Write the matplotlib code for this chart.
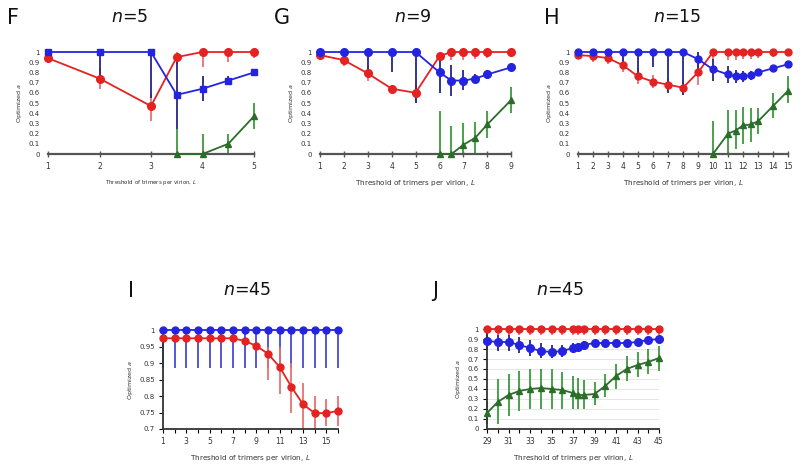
import matplotlib
matplotlib.use("Agg")
import matplotlib.pyplot as plt
from matplotlib.ticker import FuncFormatter
import numpy as np

# ---------------- data ----------------
# Panel F (n=5)
F_x = [1, 2, 3, 3.5, 4, 4.5, 5]
F_red = [0.94, 0.74, 0.47, 0.95, 1.0, 1.0, 1.0]
F_red_lo = [0.94, 0.64, 0.32, 0.88, 0.85, 0.90, 0.94]
F_red_hi = [0.94, 0.84, 0.60, 1.0, 1.0, 1.0, 1.0]
F_blue = [1.0, 1.0, 1.0, 0.58, 0.64, 0.72, 0.80]
F_blue_lo = [1.0, 0.75, 0.55, 0.25, 0.52, 0.68, 0.77]
F_blue_hi = [1.0, 1.0, 1.0, 0.95, 0.76, 0.76, 0.83]
F_gx = [3.5, 4, 4.5, 5]
F_green = [0.0, 0.0, 0.10, 0.37]
F_green_lo = [0.0, 0.0, 0.0, 0.25]
F_green_hi = [0.25, 0.20, 0.20, 0.50]

# Panel G (n=9)
G_x = [1, 2, 3, 4, 5, 6, 6.5, 7, 7.5, 8, 9]
G_red = [0.97, 0.92, 0.79, 0.64, 0.60, 0.96, 1, 1, 1, 1, 1]
G_red_lo = [0.97, 0.86, 0.72, 0.62, 0.50, 0.90, 0.92, 0.92, 0.93, 0.94, 0.95]
G_red_hi = [0.97, 0.97, 0.86, 0.66, 0.68, 1, 1, 1, 1, 1, 1]
G_blue = [1, 1, 1, 1, 1, 0.80, 0.72, 0.72, 0.74, 0.78, 0.85]
G_blue_lo = [1, 0.90, 0.80, 0.80, 0.50, 0.60, 0.57, 0.63, 0.70, 0.74, 0.82]
G_blue_hi = [1, 1, 1, 1, 1, 0.95, 0.87, 0.82, 0.78, 0.82, 0.88]
G_gx = [6, 6.5, 7, 7.5, 8, 9]
G_green = [0.0, 0.0, 0.09, 0.16, 0.29, 0.53]
G_green_lo = [0.0, 0.0, 0.0, 0.01, 0.16, 0.40]
G_green_hi = [0.42, 0.27, 0.30, 0.31, 0.42, 0.66]

# Panel H (n=15)
H_x = [1, 2, 3, 4, 5, 6, 7, 8, 9, 10, 11, 11.5, 12, 12.5, 13, 14, 15]
H_red = [0.97, 0.96, 0.94, 0.87, 0.76, 0.71, 0.68, 0.65, 0.80, 1, 1, 1, 1, 1, 1, 1, 1]
H_red_lo = [0.97, 0.90, 0.88, 0.80, 0.69, 0.65, 0.62, 0.58, 0.68, 0.92, 0.92, 0.92, 0.93, 0.93, 0.94, 0.95, 0.96]
H_red_hi = [0.97, 1, 1, 0.94, 0.84, 0.77, 0.74, 0.72, 0.92, 1, 1, 1, 1, 1, 1, 1, 1]
H_blue = [1, 1, 1, 1, 1, 1, 1, 1, 0.93, 0.83, 0.78, 0.76, 0.76, 0.77, 0.80, 0.84, 0.88]
H_blue_lo = [1, 1, 1, 0.85, 0.78, 0.85, 0.60, 0.58, 0.80, 0.72, 0.70, 0.70, 0.71, 0.73, 0.77, 0.82, 0.86]
H_blue_hi = [1, 1, 1, 1, 1, 1, 1, 1, 1, 0.93, 0.86, 0.82, 0.81, 0.81, 0.83, 0.86, 0.90]
H_gx = [10, 11, 11.5, 12, 12.5, 13, 14, 15]
H_green = [0.0, 0.20, 0.23, 0.28, 0.29, 0.32, 0.47, 0.62]
H_green_lo = [0.0, 0.0, 0.05, 0.10, 0.12, 0.20, 0.35, 0.50]
H_green_hi = [0.32, 0.43, 0.43, 0.46, 0.45, 0.45, 0.60, 0.76]

# Panel I (n=45)
I_x = list(range(1, 17))
I_blue = [1.0] * 16
I_blue_lo = [0.885] * 16
I_blue_hi = [1.0] * 16
I_red = [0.975] * 7 + [0.967, 0.952, 0.928, 0.888, 0.828, 0.775, 0.748, 0.748, 0.755]
I_red_lo = [0.975] * 7 + [0.965, 0.945, 0.85, 0.805, 0.75, 0.70, 0.70, 0.71, 0.71]
I_red_hi = [0.975] * 7 + [0.97, 0.96, 0.95, 0.95, 0.90, 0.84, 0.80, 0.79, 0.80]

# Panel J (n=45)
J_x = [29, 30, 31, 32, 33, 34, 35, 36, 37, 37.5, 38, 39, 40, 41, 42, 43, 44, 45]
J_red = [1.0] * 18
J_red_lo = [0.94] * 18
J_red_hi = [1.0] * 18
J_blue = [0.88, 0.87, 0.87, 0.84, 0.81, 0.78, 0.77, 0.78, 0.81, 0.82, 0.84, 0.86, 0.86, 0.86, 0.86, 0.87, 0.89, 0.90]
J_blue_lo = [0.80, 0.78, 0.78, 0.76, 0.73, 0.71, 0.71, 0.72, 0.76, 0.78, 0.80, 0.83, 0.83, 0.83, 0.84, 0.85, 0.87, 0.88]
J_blue_hi = [0.95, 0.95, 0.95, 0.92, 0.89, 0.86, 0.84, 0.84, 0.86, 0.86, 0.88, 0.89, 0.89, 0.89, 0.88, 0.89, 0.91, 0.92]
J_green = [0.16, 0.27, 0.34, 0.38, 0.40, 0.41, 0.40, 0.39, 0.36, 0.34, 0.34, 0.35, 0.43, 0.53, 0.60, 0.64, 0.67, 0.71]
J_green_lo = [0.05, 0.05, 0.13, 0.18, 0.20, 0.20, 0.20, 0.20, 0.20, 0.20, 0.20, 0.24, 0.32, 0.40, 0.48, 0.52, 0.55, 0.58]
J_green_hi = [0.28, 0.50, 0.55, 0.58, 0.60, 0.60, 0.60, 0.57, 0.53, 0.51, 0.49, 0.47, 0.55, 0.65, 0.73, 0.77, 0.80, 0.83]

# ---------------- style ----------------
RED = "#e42222"
RED_ERR = "#e87070"
BLUE = "#2424e0"
BLUE_ERR = "#25258a"
GREEN = "#2a6e2a"
GREEN_ERR = "#3c9a3c"
AX_COL = "#555555"
TXT = "#333333"

fig = plt.figure(figsize=(8.0, 4.69), dpi=100)
fmt = FuncFormatter(lambda v, p: "%g" % round(v, 3))


def errs(x, y, lo, hi, ax, col):
    y = np.asarray(y); lo = np.asarray(lo); hi = np.asarray(hi)
    ax.errorbar(x, y, yerr=[y - lo, hi - y], fmt="none", ecolor=col,
                elinewidth=1.3, capsize=0, clip_on=False, zorder=2)


def series(ax, x, y, col, marker, ms):
    ax.plot(x, y, color=col, lw=1.3, marker=marker, ms=ms, mfc=col, mec=col,
            clip_on=False, zorder=4)


def style_top(ax, xmin, xmax, xticks, xlfs=5.2):
    ax.set_xlim(xmin, xmax)
    ax.set_ylim(0, 1)
    for s in ("top", "right", "left"):
        ax.spines[s].set_visible(False)
    ax.spines["bottom"].set_color(AX_COL)
    ax.spines["bottom"].set_linewidth(1.6)
    ax.set_yticks(np.arange(0, 1.01, 0.1))
    ax.yaxis.set_major_formatter(fmt)
    ax.set_xticks(xticks)
    ax.tick_params(axis="y", length=0, pad=6, labelsize=5, colors=TXT)
    ax.tick_params(axis="x", length=5, direction="inout", width=1.0, color=AX_COL,
                   labelsize=5.5, pad=3, labelcolor=TXT)
    ax.set_xlabel(r"Threshold of trimers per virion, $L$", fontsize=xlfs, labelpad=5, color=TXT)
    ax.set_ylabel(r"Optimized $a$", fontsize=4.6, labelpad=3, color=TXT)


# Panel F
axF = fig.add_axes([0.06, 0.6716, 0.2575, 0.2175])
errs(F_gx, F_green, F_green_lo, F_green_hi, axF, GREEN_ERR)
errs(F_x, F_red, F_red_lo, F_red_hi, axF, RED_ERR)
errs(F_x, F_blue, F_blue_lo, F_blue_hi, axF, BLUE_ERR)
series(axF, F_gx, F_green, GREEN, "^", 4)
series(axF, F_x, F_red, RED, "o", 5.5)
series(axF, F_x, F_blue, BLUE, "s", 5)
style_top(axF, 1, 5, [1, 2, 3, 4, 5], xlfs=4.0)

# Panel G
axG = fig.add_axes([0.40, 0.6716, 0.239, 0.2175])
errs(G_gx, G_green, G_green_lo, G_green_hi, axG, GREEN_ERR)
errs(G_x, G_red, G_red_lo, G_red_hi, axG, RED_ERR)
errs(G_x, G_blue, G_blue_lo, G_blue_hi, axG, BLUE_ERR)
series(axG, G_gx, G_green, GREEN, "^", 4)
series(axG, G_x, G_red, RED, "o", 5.5)
series(axG, G_x, G_blue, BLUE, "o", 5.5)
style_top(axG, 1, 9, list(range(1, 10)))

# Panel H
axH = fig.add_axes([0.7225, 0.6716, 0.2625, 0.2175])
errs(H_gx, H_green, H_green_lo, H_green_hi, axH, GREEN_ERR)
errs(H_x, H_red, H_red_lo, H_red_hi, axH, RED_ERR)
errs(H_x, H_blue, H_blue_lo, H_blue_hi, axH, BLUE_ERR)
series(axH, H_gx, H_green, GREEN, "^", 4)
series(axH, H_x, H_red, RED, "o", 5)
series(axH, H_x, H_blue, BLUE, "o", 5)
style_top(axH, 1, 15, list(range(1, 16)))

# Panel I
axI = fig.add_axes([0.20375, 0.0853, 0.21875, 0.211])
errs(I_x, I_blue, I_blue_lo, I_blue_hi, axI, "#4a4ad6")
errs(I_x, I_red, I_red_lo, I_red_hi, axI, RED_ERR)
series(axI, I_x, I_blue, BLUE, "o", 5)
series(axI, I_x, I_red, RED, "o", 5)
axI.set_xlim(1, 16)
axI.set_ylim(0.7, 1.0)
for s in ("top", "right"):
    axI.spines[s].set_visible(False)
for s in ("left", "bottom"):
    axI.spines[s].set_color("#333333")
    axI.spines[s].set_linewidth(1.3)
axI.set_yticks(np.arange(0.7, 1.001, 0.05))
axI.yaxis.set_major_formatter(fmt)
axI.set_xticks(list(range(1, 17, 2)))
axI.set_xticks(list(range(1, 17)), minor=True)
axI.tick_params(axis="both", which="major", length=3, width=0.8, labelsize=5.5, pad=3, labelcolor=TXT)
axI.tick_params(axis="x", which="minor", length=3, width=0.8)
axI.tick_params(axis="y", labelsize=5)
axI.set_xlabel(r"Threshold of trimers per virion, $L$", fontsize=5.2, labelpad=5, color=TXT)
axI.set_ylabel(r"Optimized $a$", fontsize=4.6, labelpad=3, color=TXT)

# Panel J
axJ = fig.add_axes([0.60875, 0.0853, 0.215, 0.2132])
axJ.set_axisbelow(True)
axJ.yaxis.grid(True, color="#e2e2e2", lw=0.6)
errs(J_x, J_green, J_green_lo, J_green_hi, axJ, GREEN_ERR)
errs(J_x, J_blue, J_blue_lo, J_blue_hi, axJ, BLUE_ERR)
errs(J_x, J_red, J_red_lo, J_red_hi, axJ, RED_ERR)
series(axJ, J_x, J_green, GREEN, "^", 4)
series(axJ, J_x, J_blue, BLUE, "o", 5.5)
series(axJ, J_x, J_red, RED, "o", 5)
axJ.set_xlim(29, 45)
axJ.set_ylim(0, 1)
for s in ("top", "right"):
    axJ.spines[s].set_visible(False)
for s in ("left", "bottom"):
    axJ.spines[s].set_color("#333333")
    axJ.spines[s].set_linewidth(1.3)
axJ.set_yticks(np.arange(0, 1.01, 0.1))
axJ.yaxis.set_major_formatter(fmt)
axJ.set_xticks(list(range(29, 46, 2)))
axJ.set_xticks(list(range(29, 46)), minor=True)
axJ.tick_params(axis="both", which="major", length=3, width=0.8, labelsize=5.5, pad=3, labelcolor=TXT)
axJ.tick_params(axis="x", which="minor", length=3, width=0.8)
axJ.tick_params(axis="y", labelsize=5)
axJ.set_xlabel(r"Threshold of trimers per virion, $L$", fontsize=5.2, labelpad=5, color=TXT)
axJ.set_ylabel(r"Optimized $a$", fontsize=4.6, labelpad=3, color=TXT)

# Panel letters and titles
letters = [("F", 7, 18), ("G", 274, 18), ("H", 544, 18), ("I", 128, 291), ("J", 432, 291)]
for t, px, py in letters:
    fig.text(px / 800, 1 - py / 469, t, fontsize=15, va="center", ha="left", color="#111111")

titles = [(r"$n$=5", 130, 17), (r"$n$=9", 413, 17), (r"$n$=15", 677, 17),
          (r"$n$=45", 247, 290), (r"$n$=45", 560, 290)]
for t, px, py in titles:
    fig.text(px / 800, 1 - py / 469, t, fontsize=12.5, va="center", ha="center", color="#111111")

fig.savefig("out.png", dpi=100)
